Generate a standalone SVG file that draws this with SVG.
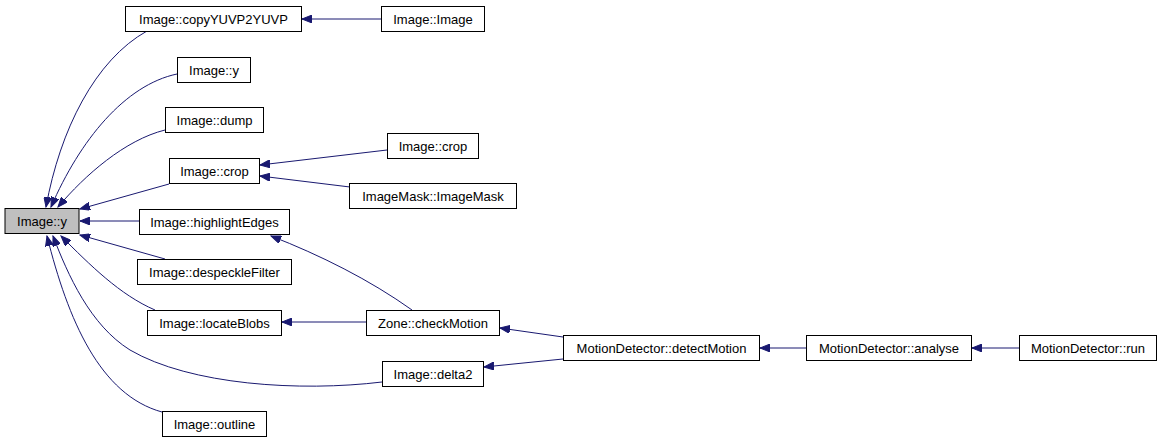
<svg xmlns="http://www.w3.org/2000/svg" width="1161" height="443" viewBox="0 0 1161 443">
<style>
.n rect{fill:#ffffff;stroke:#000000;stroke-width:1}
.n.f rect{fill:#bfbfbf}
.n text{font-family:"Liberation Sans",Arial,sans-serif;font-size:13px;fill:#000000;text-anchor:middle}
.e path{fill:none;stroke:#191970;stroke-width:1;marker-end:url(#ah)}
</style>
<defs>
<marker id="ah" markerUnits="userSpaceOnUse" markerWidth="11" markerHeight="8" refX="10" refY="4" orient="auto">
<path d="M0,0 L10,4 L0,8 z" fill="#191970" stroke="#191970" stroke-width="1"/>
</marker>
</defs>
<rect width="1161" height="443" fill="#ffffff"/>
<g id="edges" class="e">
<path d="M147,31 C95,60 60,130 46,207"/>
<path d="M177,74 C125,85 80,140 51,207"/>
<path d="M165,130 C125,140 85,175 58,207"/>
<path d="M169,184 L80,209"/>
<path d="M139,221 L80,221"/>
<path d="M165,259 L80,235"/>
<path d="M155,310 C120,295 90,265 61,236"/>
<path d="M382,382 C300,392 190,385 130,350 C90,325 68,275 53,236"/>
<path d="M162,412 C100,395 68,320 47,236"/>
<path d="M381,19 L302,19"/>
<path d="M387,150 L260,165"/>
<path d="M350,187 L260,176"/>
<path d="M412,310 C370,280 320,255 271,236"/>
<path d="M366,322 L282,322"/>
<path d="M563,337 L500,328"/>
<path d="M563,359 L484,367"/>
<path d="M806,348 L760,348"/>
<path d="M1019,348 L972,348"/>
</g>
<g id="node_image_y" class="n f"><rect x="5" y="208.5" width="74" height="25"/><text x="42" y="226">Image::y</text></g>
<g id="node_copy" class="n"><rect x="125.5" y="6.5" width="176" height="25"/><text x="213.5" y="24">Image::copyYUVP2YUVP</text></g>
<g id="node_y2" class="n"><rect x="177.5" y="57.5" width="73" height="25"/><text x="214" y="75">Image::y</text></g>
<g id="node_dump" class="n"><rect x="165.5" y="107.5" width="98" height="25"/><text x="214.5" y="125">Image::dump</text></g>
<g id="node_crop" class="n"><rect x="169.5" y="158.5" width="90" height="25"/><text x="214.5" y="176">Image::crop</text></g>
<g id="node_highlight" class="n"><rect x="139.5" y="209.5" width="150" height="25"/><text x="214.5" y="227">Image::highlightEdges</text></g>
<g id="node_despeckle" class="n"><rect x="137.5" y="259.5" width="154" height="25"/><text x="214.5" y="277">Image::despeckleFilter</text></g>
<g id="node_locate" class="n"><rect x="147.5" y="310.5" width="134" height="25"/><text x="214.5" y="328">Image::locateBlobs</text></g>
<g id="node_outline" class="n"><rect x="162.5" y="411.5" width="104" height="25"/><text x="214.5" y="429">Image::outline</text></g>
<g id="node_image_image" class="n"><rect x="381.5" y="6.5" width="103" height="25"/><text x="433" y="24">Image::Image</text></g>
<g id="node_crop2" class="n"><rect x="387.5" y="133.5" width="91" height="25"/><text x="433" y="151">Image::crop</text></g>
<g id="node_imagemask" class="n"><rect x="349.5" y="183.5" width="167" height="25"/><text x="433" y="201">ImageMask::ImageMask</text></g>
<g id="node_checkmotion" class="n"><rect x="366.5" y="310.5" width="133" height="25"/><text x="433" y="328">Zone::checkMotion</text></g>
<g id="node_delta2" class="n"><rect x="382.5" y="361.5" width="101" height="25"/><text x="433" y="379">Image::delta2</text></g>
<g id="node_detect" class="n"><rect x="563.5" y="335.5" width="196" height="25"/><text x="661.5" y="353">MotionDetector::detectMotion</text></g>
<g id="node_analyse" class="n"><rect x="806.5" y="335.5" width="165" height="25"/><text x="889" y="353">MotionDetector::analyse</text></g>
<g id="node_run" class="n"><rect x="1019.5" y="335.5" width="137" height="25"/><text x="1088" y="353">MotionDetector::run</text></g>
</svg>
